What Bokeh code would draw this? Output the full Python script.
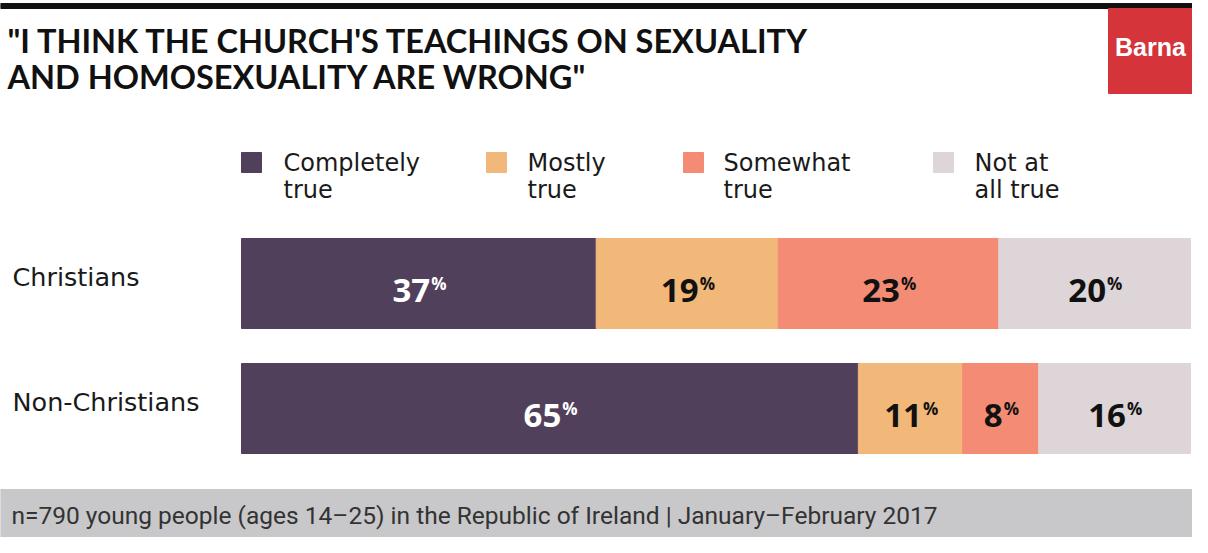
from bokeh.plotting import figure
from bokeh.models import ColumnDataSource, Range1d
from bokeh.core.properties import value
from bokeh.embed import file_html
from bokeh.resources import INLINE

# ---------------- data ----------------
groups = ["Christians", "Non-Christians"]
categories = ["Completely\ntrue", "Mostly\ntrue", "Somewhat\ntrue", "Not at\nall true"]
completely_true = [37, 65]
mostly_true = [19, 11]
somewhat_true = [23, 8]
not_at_all_true = [20, 16]
title_text = "\"I THINK THE CHURCH'S TEACHINGS ON SEXUALITY\nAND HOMOSEXUALITY ARE WRONG\""
footnote = "n=790 young people (ages 14\u201325) in the Republic of Ireland | January\u2013February 2017"
brand = "Barna"

# ---------------- styles / layout ----------------
colors = ["#51405c", "#f2b87a", "#f48b74", "#ddd5d7"]
label_colors = ["#ffffff", "#111111", "#111111", "#111111"]
W, H = 1192, 537
BAR_L, BAR_R = 241, 1190
PX = (BAR_R - BAR_L) / 100.0
ROW0, ROW_GAP, BAR_H = 283, 125, 90
TITLE_FONT = "Lato"
LEG_FONT = "DejaVu Sans"
NUM_FONT = "Open Sans"
BL = 0.4  # baseline correction, in em


def base(y, size):
    return y - BL * size


p = figure(width=W, height=H, x_range=Range1d(0, W), y_range=Range1d(H, 0),
           output_backend="svg", toolbar_location=None, min_border=0,
           x_axis_location=None, y_axis_location=None)
p.grid.visible = False
p.outline_line_color = None
p.background_fill_color = "white"
p.border_fill_color = "white"
p.extra_x_ranges = {"pct": Range1d(-BAR_L / PX, (W - BAR_L) / PX)}

# top rule
p.quad(left=[0], right=[W], top=[3], bottom=[8], color="#111111")

# logo
p.quad(left=[1108], right=[W], top=[8], bottom=[93], color="#d4343a")
p.text(x=[1150], y=[base(56, 25)], text=[brand], text_align="center", text_baseline="alphabetic",
       text_font=value("Liberation Sans"), text_font_style="bold", text_font_size="25px",
       text_color="white")

# title
tlines = title_text.split("\n")
p.text(x=[7] * len(tlines), y=[base(53 + 36 * i, 32.5) for i in range(len(tlines))], text=tlines,
       text_align="left", text_baseline="alphabetic", text_font=value(TITLE_FONT),
       text_font_style="bold", text_font_size="32.5px", text_color="#111111")

# legend
leg_sq_x = [241, 486, 683, 933]
leg_tx_x = [283, 527, 723, 974]
for k, cat in enumerate(categories):
    p.quad(left=[leg_sq_x[k]], right=[leg_sq_x[k] + 20], top=[152], bottom=[172], color=colors[k])
    parts = cat.split("\n")
    p.text(x=[leg_tx_x[k]] * len(parts), y=[base(172 + 27 * i, 24) for i in range(len(parts))],
           text=parts, text_align="left", text_baseline="alphabetic", text_font=value(LEG_FONT),
           text_font_size="24px", text_color="#1a1a1a")

# group labels
row_y = [ROW0 + i * ROW_GAP for i in range(len(groups))]
p.text(x=[12] * len(groups), y=[base(y + 4, 25.5) for y in row_y], text=groups, text_align="left",
       text_baseline="alphabetic", text_font=value(LEG_FONT), text_font_size="25.5px",
       text_color="#1a1a1a")

# bars
series = [completely_true, mostly_true, somewhat_true, not_at_all_true]
totals = [sum(s[g] for s in series) for g in range(len(groups))]
cum = [0.0] * len(groups)
for k, s in enumerate(series):
    left = [cum[g] / totals[g] * 100 for g in range(len(groups))]
    right = [(cum[g] + s[g]) / totals[g] * 100 for g in range(len(groups))]
    cum = [cum[g] + s[g] for g in range(len(groups))]
    mid = [(l + r) / 2 for l, r in zip(left, right)]
    nums = [str(v) for v in s]
    nw = [len(t) * 18.9 for t in nums]
    src = ColumnDataSource(dict(y=row_y, left=left, right=right, mid=mid, num=nums,
                                pct=["%"] * len(nums), nbase=[y + 7 for y in row_y],
                                pbase=[y + 0 for y in row_y],
                                poff=[w / 2 - 6.5 for w in nw]))
    p.hbar(y="y", left="left", right="right", height=BAR_H, source=src, color=colors[k],
           x_range_name="pct")
    p.text(x="mid", y="nbase", text="num", source=src, x_range_name="pct", x_offset=-7.5,
           text_align="center", text_baseline="alphabetic", text_font=value(NUM_FONT),
           text_font_style="bold", text_font_size="33px", text_color=label_colors[k])
    p.text(x="mid", y="pbase", text="pct", source=src, x_range_name="pct", x_offset="poff",
           text_align="left", text_baseline="alphabetic", text_font=value(NUM_FONT),
           text_font_style="bold", text_font_size="17px", text_color=label_colors[k])

# footer
p.quad(left=[0], right=[W], top=[489], bottom=[H], color="#c8c8ca")
p.text(x=[11], y=[base(525, 24.5)], text=[footnote], text_align="left", text_baseline="alphabetic",
       text_font=value("Roboto"), text_font_size="24.5px", text_color="#333333")

open("out.html", "w").write(file_html(p, INLINE))
